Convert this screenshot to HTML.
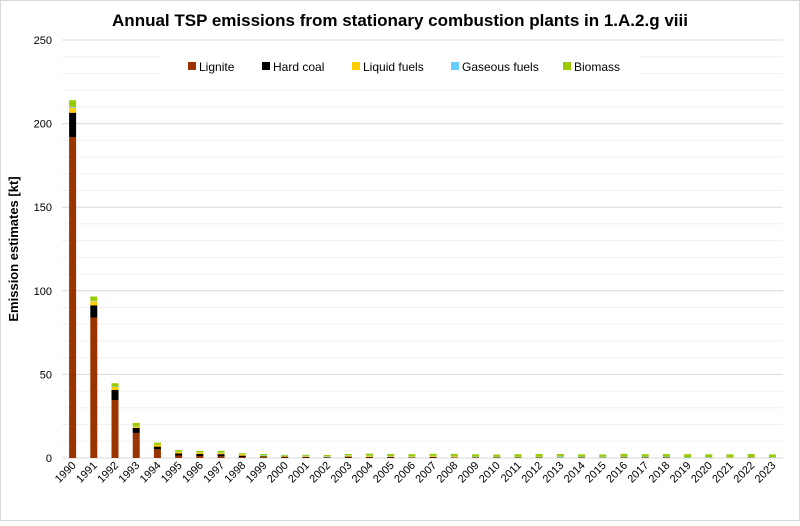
<!DOCTYPE html>
<html><head><meta charset="utf-8"><style>
body{margin:0;background:#fff;font-family:"Liberation Sans",sans-serif}
</style></head><body>
<svg id="c" width="800" height="521" xmlns="http://www.w3.org/2000/svg">
<rect x="0.5" y="0.5" width="799" height="520" fill="#fff" stroke="#d9d9d9"/>
<text x="400" y="26" text-anchor="middle" font-size="17" font-weight="bold" fill="#000">Annual TSP emissions from stationary combustion plants in 1.A.2.g viii</text>
<text transform="translate(18,249) rotate(-90)" text-anchor="middle" font-size="13" font-weight="bold">Emission estimates [kt]</text>
<g id="grid"></g><g id="bars"></g><g id="xl"></g>
<g>
<rect x="160" y="55" width="480" height="25" fill="#fff"/>
<rect x="188" y="62" width="8" height="8" fill="#993300"/><text x="199" y="71" font-size="12">Lignite</text>
<rect x="262" y="62" width="8" height="8" fill="#000"/><text x="273" y="71" font-size="12">Hard coal</text>
<rect x="352" y="62" width="8" height="8" fill="#ffcc00"/><text x="363" y="71" font-size="12">Liquid fuels</text>
<rect x="451" y="62" width="8" height="8" fill="#66ccff"/><text x="462" y="71" font-size="12">Gaseous fuels</text>
<rect x="563" y="62" width="8" height="8" fill="#99cc00"/><text x="574" y="71" font-size="12">Biomass</text>
</g>
</svg>
<script>
const years=[];for(let y=1990;y<=2023;y++)years.push(String(y));
const lignite=[192,84,34.7,15,5.2,1.5,1.2,1,0.6,0.4,0.3,0.3,0.2,0.3,0.3,0.3,0.2,0.3,0.2,0.1,0.1,0.1,0.1,0.1,0.1,0.1,0.1,0.1,0.1,0,0,0,0.1,0];
const hardCoal=[14.5,7.3,6,3,1.6,1.2,1.2,1.3,0.8,0.5,0.5,0.4,0.3,0.5,0.3,0.3,0.2,0.3,0.2,0.3,0.2,0.2,0.2,0.1,0.2,0.1,0.2,0.2,0.2,0.1,0.1,0.1,0.1,0];
const liquid=[3,2.5,1.8,0.8,1,1,0.8,0.8,0.8,0.5,0.4,0.4,0.3,0.6,0.5,0.4,0.4,0.5,0.5,0.3,0.3,0.3,0.3,0.3,0.3,0.2,0.3,0.3,0.3,0.2,0.2,0.2,0.2,0.1];
const gaseous=[0.5,0.3,0.2,0.2,0.1,0.1,0.1,0.2,0.1,0.4,0.2,0.3,0.3,0.2,0.3,0.2,0.2,0.2,0.2,0.2,0.2,0.2,0.2,0.5,0.3,0.3,0.3,0.3,0.3,0.3,0.3,0.2,0.2,0.3];
const biomass=[4,2.5,2,2,1.3,1,1,1,0.6,0.6,0.5,0.6,0.7,0.8,1.2,1.2,1.3,1.2,1.4,1.3,1.3,1.5,1.6,1.4,1.3,1.4,1.6,1.4,1.5,1.7,1.6,1.7,1.8,1.7];
const yTicks=[0,50,100,150,200,250];
const series=[[lignite,'#993300','lignite'],[hardCoal,'#000000','hard-coal'],[liquid,'#ffcc00','liquid-fuels'],[gaseous,'#66ccff','gaseous-fuels'],[biomass,'#99cc00','biomass']];
const NS='http://www.w3.org/2000/svg';
const L=62,R=783,T=40,B=458,ymax=250;
const yS=v=>B-v/ymax*(B-T);
const band=(R-L)/years.length;
const xS=i=>L+band*(i+0.5);
function mk(t,a,p){const e=document.createElementNS(NS,t);for(const k in a)e.setAttribute(k,a[k]);p.appendChild(e);return e;}
const g=document.getElementById('grid');
for(let v=0;v<=ymax;v+=10){const ln=mk('line',{x1:L,x2:R,y1:yS(v),y2:yS(v),stroke:v%50===0?'#d9d9d9':'#f0f0f0','stroke-width':1},g);

}
yTicks.forEach(v=>{const t=mk('text',{x:L-10,y:yS(v)+4,'text-anchor':'end','font-size':11,fill:'#000'},g);t.textContent=v;

});
const bg=document.getElementById('bars'),xl=document.getElementById('xl');
years.forEach((yr,i)=>{let acc=0;
series.forEach(([arr,col,nm])=>{const v=arr[i];const y0=yS(acc),y1=yS(acc+v);acc+=v;
const r=mk('rect',{x:xS(i)-3.5,y:y1,width:7,height:Math.max(0,y0-y1),fill:col},bg);

});
const t=mk('text',{transform:`translate(${xS(i)+4},${B+8}) rotate(-45)`,'text-anchor':'end','font-size':11},xl);t.textContent=yr;

});
</script>
</body></html>
